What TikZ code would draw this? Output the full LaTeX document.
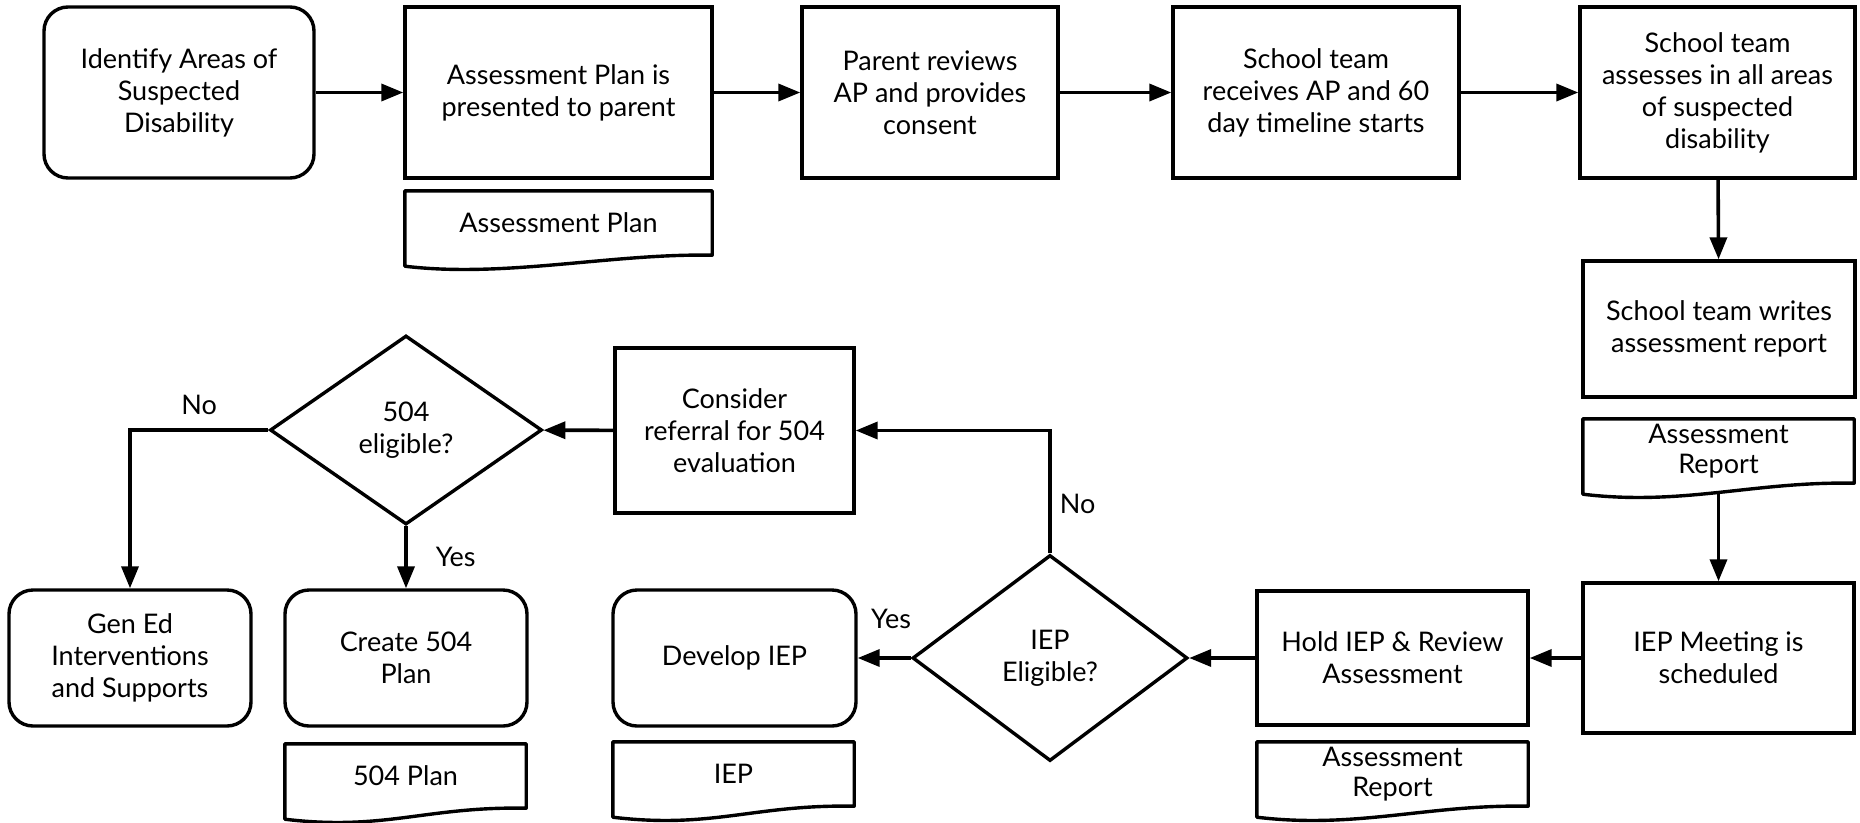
\documentclass[tikz,border=0pt]{standalone}
\usepackage{fontspec}
\setmainfont{Lato}
\usetikzlibrary{arrows.meta,shapes.geometric}
\tikzset{
  base/.style={draw, line width=3.4pt, align=center, inner sep=0pt, font=\fontsize{27}{32}\selectfont},
  box/.style={base, rectangle, minimum width=#1},
  rbox/.style={base, rectangle, rounded corners=24pt, minimum width=#1},
  dia/.style={base, diamond, minimum width=#1},
  docbox/.style={align=center, inner sep=0pt, rectangle, minimum width=#1, minimum height=64pt, font=\fontsize{27}{30}\selectfont},
  docline/.style={line width=3.4pt, line join=round},
  conn/.style={line width=3.6pt, -{Triangle[length=22pt,width=17pt]}},
  lab/.style={font=\fontsize{27}{32}\selectfont, inner sep=2pt},
}
\newcommand\docshape[1]{%
  \draw[docline] ([yshift=-11pt]#1.south west) -- (#1.north west) -- (#1.north east) -- (#1.south east)
    .. controls +(-100pt,2pt) and +(100pt,-12pt) .. ([yshift=-11pt]#1.south west) -- cycle;}
\begin{document}
\begin{tikzpicture}[x=1pt,y=-1pt]
\useasboundingbox (0,0) rectangle (1860,822);
% row 1
\node[rbox=270pt, minimum height=171pt] (A) at (179,92.5) {Identify Areas of\\Suspected\\Disability};
\node[box=307pt, minimum height=171pt] (B) at (558.5,92.5) {Assessment Plan is\\presented to parent};
\node[box=256pt, minimum height=171pt] (C) at (930,92.5) {Parent reviews\\AP and provides\\consent};
\node[box=286pt, minimum height=171pt] (D) at (1316,92.5) {School team\\receives AP and 60\\day timeline starts};
\node[box=275pt, minimum height=171pt] (E) at (1717.5,92.5) {School team\\assesses in all areas\\of suspected\\disability};
\node[docbox=307pt] (dAP) at (558.5,223) {Assessment Plan};
\docshape{dAP}
% right column
\node[box=272pt, minimum height=136pt] (F) at (1719,329) {School team writes\\assessment report};
\node[docbox=271pt] (dAR1) at (1718.5,451) {Assessment\\Report};
\docshape{dAR1}
\node[box=271pt, minimum height=150pt] (G) at (1718.5,658) {IEP Meeting is\\scheduled};
\node[box=271pt, minimum height=134pt] (H) at (1392.5,658) {Hold IEP \& Review\\Assessment};
\node[docbox=271pt] (dAR2) at (1392.5,774) {Assessment\\Report};
\docshape{dAR2}
\node[dia=275pt, minimum height=206pt] (IEPd) at (1050,658) {IEP\\Eligible?};
\node[rbox=243pt, minimum height=136pt] (Dev) at (734.5,658) {Develop IEP};
\node[docbox=241pt] (dIEP) at (733.5,774) {IEP};
\docshape{dIEP}
\node[box=239pt, minimum height=165pt] (Cons) at (734.5,430.5) {Consider\\referral for 504\\evaluation};
\node[dia=272pt, minimum height=189pt] (D504) at (406,430) {504\\eligible?};
\node[rbox=242pt, minimum height=136pt] (Gen) at (130,658) {Gen Ed\\Interventions\\and Supports};
\node[rbox=242pt, minimum height=136pt] (Cr) at (406,658) {Create 504\\Plan};
\node[docbox=241pt] (d504) at (405.5,776) {504 Plan};
\docshape{d504}
% connectors
\draw[conn] (A) -- (B);
\draw[conn] (B) -- (C);
\draw[conn] (C) -- (D);
\draw[conn] (D) -- (E);
\draw[conn] (E) -- (F);
\draw[conn] ([yshift=-8pt]dAR1.south) -- (G);
\draw[conn] (G) -- (H);
\draw[conn] (H) -- (IEPd);
\draw[conn] (IEPd) -- node[lab, pos=0.37, above=25pt] (yes1) {Yes} (Dev);
\draw[conn] (IEPd.north) |- node[lab, pos=0.2, right=6pt] (no1) {No} (Cons.east);
\draw[conn] (Cons) -- (D504);
\draw[conn] (D504.south) -- node[lab, pos=0.5, right=26pt] (yes2) {Yes} (Cr.north);
\draw[conn] (D504.west) -| node[lab, pos=0.25, above=12pt] (no2) {No} (Gen.north);
\end{tikzpicture}
\end{document}
